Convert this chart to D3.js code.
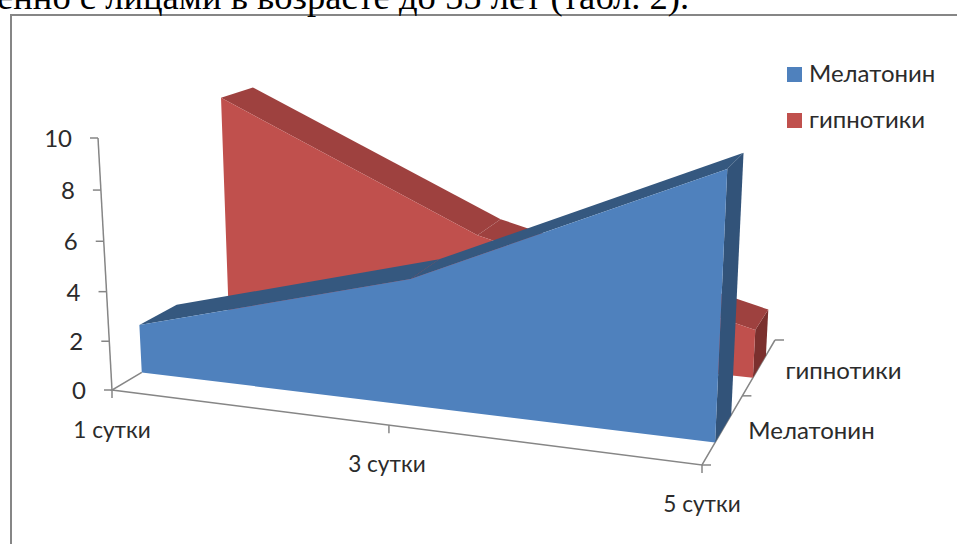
<!DOCTYPE html>
<html lang="ru">
<head>
<meta charset="utf-8">
<title>Мелатонин и гипнотики</title>
<script src="https://cdnjs.cloudflare.com/ajax/libs/d3/7.9.0/d3.min.js"></script>
<style>
  html, body { margin: 0; padding: 0; background: #fff; overflow: hidden; }
  svg { display: block; }
  text { font-family: Lato, "Open Sans", "Noto Sans", sans-serif; fill: #2b2b2b; }
  .caption { font-family: "Liberation Serif", serif; fill: #000; }
</style>
</head>
<body>
<svg id="chart" width="957" height="544"></svg>
<script>
// Chart data
const categories = ["1 сутки", "3 сутки", "5 сутки"];
const seriesNames = ["Мелатонин", "гипнотики"];
const melatonin = [2, 5, 10];
const hypnotics = [10, 4.9, 2];
const valueTicks = [0, 2, 4, 6, 8, 10];
const captionText = "енно с лицами в возрасте до 55 лет (табл. 2).";

const colors = {
  "Мелатонин": { front: "#4f81bd", top: "#35587f", side: "#325379" },
  "гипнотики": { front: "#c0504d", top: "#9e413f", side: "#7b302e" }
};
const axisColor = "#868686";

// Logical chart space: all three scales map to 0..1
const xScale = d3.scalePoint().domain(categories).range([0, 1]);
const yScale = d3.scaleLinear().domain([0, 10]).range([0, 1]);
const zScale = d3.scaleLinear().domain([0, 1]).range([0, 1]);

// Depth band each series occupies on the floor
const depthBands = { "Мелатонин": [0.15, 0.35], "гипнотики": [0.65, 0.85] };

// Camera: a floor homography from four corners plus a vertical vanishing point
const floor = [[112, 390], [702, 465], [775, 340], [281, 290]];
const vanish = [448, 6440];
const top10Y = 138;

function makeCamera(q, v, yTop) {
  const [[x0, y0], [x1, y1], [x2, y2], [x3, y3]] = q;
  const dx1 = x1 - x2, dx2 = x3 - x2, sx = x0 - x1 + x2 - x3;
  const dy1 = y1 - y2, dy2 = y3 - y2, sy = y0 - y1 + y2 - y3;
  const den = dx1 * dy2 - dx2 * dy1;
  const g = (sx * dy2 - dx2 * sy) / den;
  const h = (dx1 * sy - sx * dy1) / den;
  const a = x1 - x0 + g * x1, b = x3 - x0 + h * x3;
  const d = y1 - y0 + g * y1, e = y3 - y0 + h * y3;
  // Scale of the vertical column so that the top of the axis lands on yTop
  const k = (yTop - y0) / (v[1] - yTop);
  return (u, w, z) => {
    const den2 = g * u + h * z + 1 + k * w;
    return [
      (a * u + b * z + x0 + k * v[0] * w) / den2,
      (d * u + e * z + y0 + k * v[1] * w) / den2
    ];
  };
}
const camera = makeCamera(floor, vanish, top10Y);
const project = (cat, value, depth) => camera(xScale(cat), yScale(value), zScale(depth));

const svg = d3.select("#chart");
const polygon = d3.line().curve(d3.curveLinearClosed);
const polyline = d3.line();

// Frame around the chart; it runs past the right and bottom edges
svg.append("path")
  .attr("d", "M11,560V15H970")
  .attr("fill", "#fff")
  .attr("stroke", axisColor)
  .attr("stroke-width", 2);

svg.append("text").attr("class", "caption")
  .attr("x", -3).attr("y", 9)
  .attr("font-size", 36.6)
  .text(captionText);

// Axis lines and ticks
const axes = svg.append("g").attr("stroke", axisColor).attr("stroke-width", 1.5).attr("fill", "none");
const corner = project(categories[0], 0, 0);
const axisTop = project(categories[0], 10, 0);
axes.append("line")
  .attr("x1", corner[0]).attr("y1", corner[1])
  .attr("x2", axisTop[0]).attr("y2", axisTop[1]);
axes.append("path").attr("d", polyline([
  project(categories[0], 0, 0.15), corner,
  project(categories[2], 0, 0), project(categories[2], 0, 1)
]));

valueTicks.forEach(v => {
  const [px, py] = project(categories[0], v, 0);
  axes.append("line").attr("x1", px - 8).attr("x2", px).attr("y1", py).attr("y2", py);
  svg.append("text")
    .attr("x", px - 26).attr("y", py + 3)
    .attr("text-anchor", "end").attr("dominant-baseline", "middle")
    .attr("font-size", 24)
    .text(v);
});

categories.forEach((c, i) => {
  const [px, py] = project(c, 0, 0);
  axes.append("line").attr("x1", px).attr("x2", px).attr("y1", py).attr("y2", py + 8);
  svg.append("text")
    .attr("x", px - (i === 1 ? 2 : 0)).attr("y", py + (i === 0 ? 42 : i === 1 ? 41 : 41))
    .attr("text-anchor", "middle").attr("dominant-baseline", "middle")
    .attr("font-size", 22.6)
    .text(c);
});

// Depth-axis ticks: the two ends and the boundary between the series
[0, 0.5, 1].forEach(z => {
  const [px, py] = project(categories[2], 0, z);
  axes.append("line").attr("x1", px).attr("x2", px + 9).attr("y1", py).attr("y2", py);
});
const seriesLabelAt = { "Мелатонин": [0.25, 25, 4], "гипнотики": [0.75, 26, 6] };
seriesNames.forEach(name => {
  const [z, dx, dy] = seriesLabelAt[name];
  const [px, py] = project(categories[2], 0, z);
  svg.append("text")
    .attr("x", px + dx).attr("y", py + dy)
    .attr("dominant-baseline", "middle")
    .attr("font-size", 24)
    .text(name);
});

// One ribbon per series: top strips, right end cap, then the front face
function drawRibbon(name, values) {
  const [zf, zb] = depthBands[name];
  const c = colors[name];
  const g = svg.append("g");
  const last = categories[categories.length - 1];
  const lastValue = values[values.length - 1];

  g.append("path").attr("fill", c.side).attr("d", polygon([
    project(last, lastValue, zf), project(last, lastValue, zb),
    project(last, 0, zb), project(last, 0, zf)
  ]));
  d3.pairs(categories.map((cat, i) => [cat, values[i]])).forEach(([p, q]) => {
    g.append("path").attr("fill", c.top).attr("d", polygon([
      project(p[0], p[1], zf), project(p[0], p[1], zb),
      project(q[0], q[1], zb), project(q[0], q[1], zf)
    ]));
  });
  const outline = categories.map((cat, i) => project(cat, values[i], zf));
  g.append("path").attr("fill", c.front).attr("d", polygon(
    outline.concat([project(last, 0, zf), project(categories[0], 0, zf)])
  ));
}
drawRibbon("гипнотики", hypnotics);
drawRibbon("Мелатонин", melatonin);

// Legend
const legend = svg.append("g");
seriesNames.forEach((name, i) => {
  const y = 74 + i * 46;
  legend.append("rect")
    .attr("x", 787).attr("y", y - 7).attr("width", 15).attr("height", 15)
    .attr("fill", colors[name].front);
  legend.append("text")
    .attr("x", 809).attr("y", y + 2)
    .attr("dominant-baseline", "middle")
    .attr("font-size", 24)
    .text(name);
});
</script>
</body>
</html>
